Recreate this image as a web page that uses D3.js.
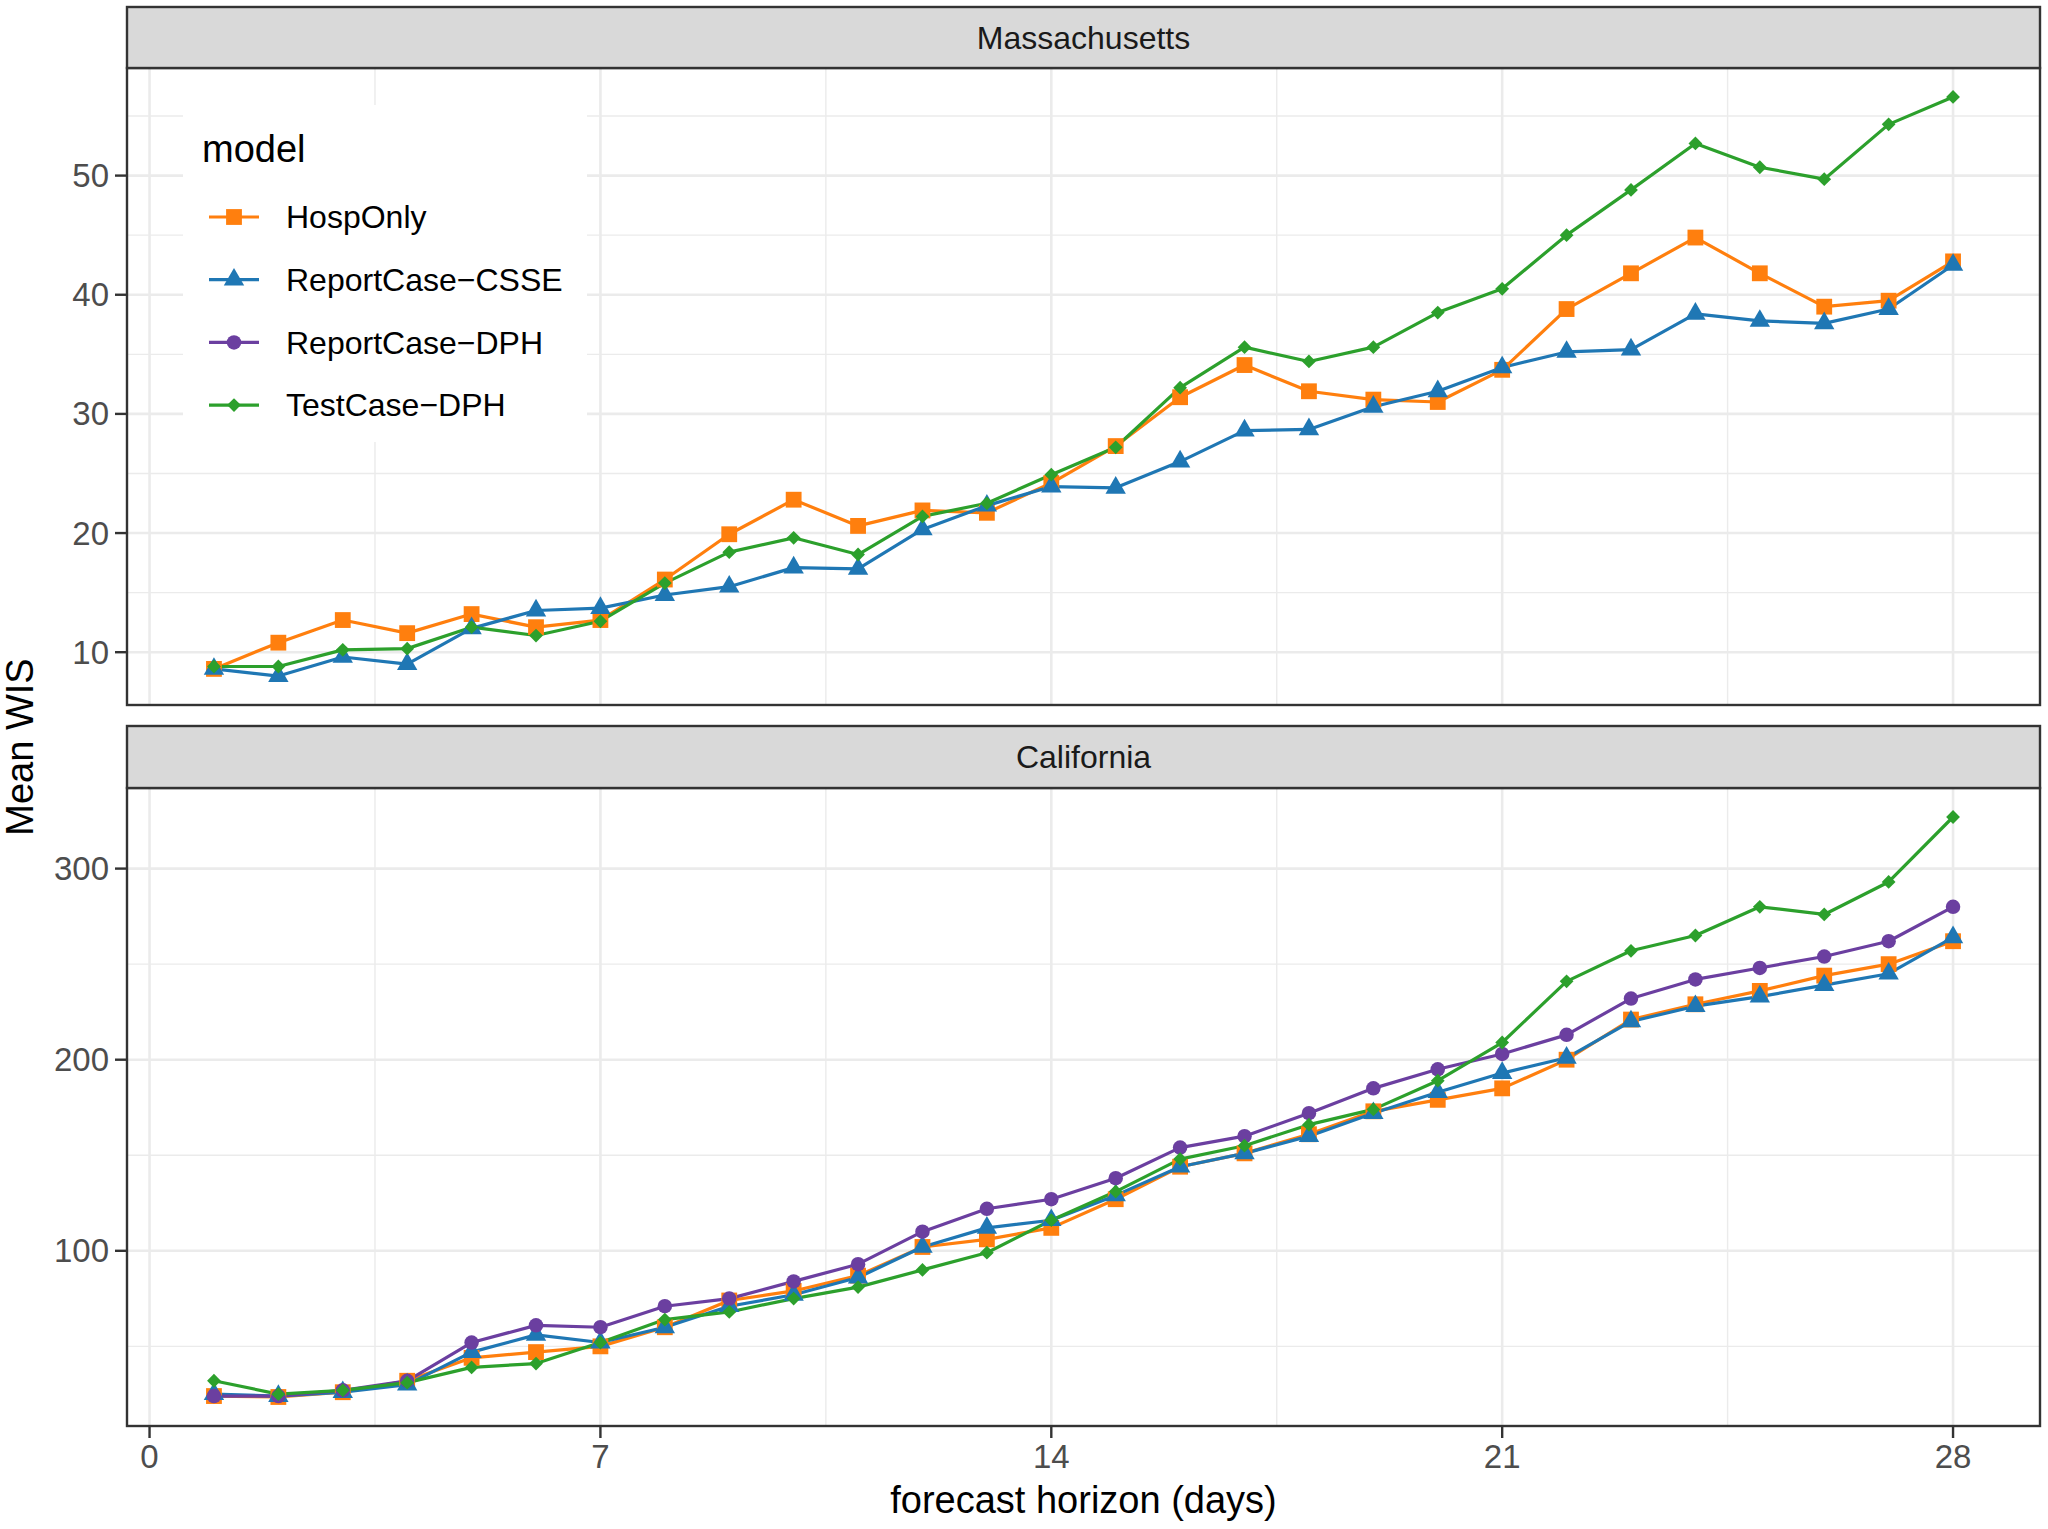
<!DOCTYPE html>
<html>
<head>
<meta charset="utf-8">
<script src="https://cdn.jsdelivr.net/npm/d3@7"></script>
<style>
  body { margin: 0; background: #fff; }
  text { font-family: "Liberation Sans", Arial, Helvetica, sans-serif; }
</style>
</head>
<body>
<div id="chart"></div>
<script>
// forecast horizon (days)
const days = [1,2,3,4,5,6,7,8,9,10,11,12,13,14,15,16,17,18,19,20,21,22,23,24,25,26,27,28];

const models = ["HospOnly", "ReportCase-CSSE", "ReportCase-DPH", "TestCase-DPH"];
const modelLabels = ["HospOnly", "ReportCase\u2212CSSE", "ReportCase\u2212DPH", "TestCase\u2212DPH"];
const modelColors = ["#FF7F0E", "#1F77B4", "#6B3FA0", "#2CA02C"];

// Massachusetts mean WIS (no ReportCase-DPH here)
const maHospOnly = [8.6,10.8,12.7,11.6,13.2,12.1,12.7,16.1,19.9,22.8,20.6,21.9,21.7,24.2,27.3,31.4,34.1,31.9,31.2,31.0,33.7,38.8,41.8,44.8,41.8,39.0,39.5,42.8];
const maReportCSSE = [8.6,8.0,9.6,9.0,12.0,13.5,13.7,14.8,15.5,17.1,17.0,20.3,22.3,23.9,23.8,26.0,28.6,28.7,30.6,31.9,33.9,35.2,35.4,38.4,37.8,37.6,38.8,42.5];
const maTestDPH = [8.8,8.8,10.2,10.3,12.1,11.4,12.6,15.8,18.4,19.6,18.2,21.4,22.5,24.9,27.2,32.2,35.6,34.4,35.6,38.5,40.5,45.0,48.8,52.7,50.7,49.7,54.3,56.6];

// California mean WIS
const caHospOnly = [24,23.5,26,32,44,47,50,60,74,79,87,102,106,112,127,144,151,161,173,179,185,200,221,229,236,244,250,262];
const caReportCSSE = [25,24,26,30,47,56,52,60,71,77,86,102,112,116,129,144,151,160,172,183,193,201,220,228,233,239,245,264];
const caReportDPH = [24,24,27,32,52,61,60,71,75,84,93,110,122,127,138,154,160,172,185,195,203,213,232,242,248,254,262,280];
const caTestDPH = [32,25,27,31,39,41,52,64,68,75,81,90,99,116,131,148,155,166,174,189,209,241,257,265,280,276,293,327];

const xTicks = [0, 7, 14, 21, 28];
const xMinor = [3.5, 10.5, 17.5, 24.5];
const maTicks = [10, 20, 30, 40, 50];
const maMinor = [15, 25, 35, 45, 55];
const caTicks = [100, 200, 300];
const caMinor = [50, 150, 250];

const panels = [
  {name: "Massachusetts", series: [maHospOnly, maReportCSSE, null, maTestDPH], ticks: maTicks, minor: maMinor, stripTop: 7, top: 68, bottom: 705},
  {name: "California", series: [caHospOnly, caReportCSSE, caReportDPH, caTestDPH], ticks: caTicks, minor: caMinor, stripTop: 726, top: 788, bottom: 1426}
];

const width = 2048, height = 1529;
const panelLeft = 127, panelRight = 2040;
const gridColor = "#EBEBEB", borderColor = "#333333";

const svg = d3.select("#chart")
  .append("svg")
    .attr("width", width)
    .attr("height", height);

// shared x scale, ggplot style 5% expansion
const x = d3.scaleLinear()
  .domain([1 - 0.05 * 27, 28 + 0.05 * 27])
  .range([panelLeft, panelRight]);

// marker shapes: square, triangle, circle, diamond
function markerPath(i) {
  if (i == 0) return d3.symbol().type(d3.symbolSquare).size(250)();
  if (i == 1) return d3.symbol().type(d3.symbolTriangle).size(180)();
  if (i == 2) return d3.symbol().type(d3.symbolCircle).size(165)();
  return d3.symbol().type(d3.symbolSquare).size(95)();
}
function markerRotate(i) {
  return i == 3 ? " rotate(45)" : "";
}

panels.forEach(function(p) {
  const all = p.series.filter(s => s).flat();
  const ext = d3.extent(all);
  const pad = (ext[1] - ext[0]) * 0.05;
  const y = d3.scaleLinear()
    .domain([ext[0] - pad, ext[1] + pad])
    .range([p.bottom, p.top]);

  const g = svg.append("g");

  // minor grid
  g.selectAll(".xminor").data(xMinor).join("line")
    .attr("x1", d => x(d)).attr("x2", d => x(d))
    .attr("y1", p.top).attr("y2", p.bottom)
    .attr("stroke", gridColor).attr("stroke-width", 1.4);
  g.selectAll(".yminor").data(p.minor.filter(v => y(v) > p.top && y(v) < p.bottom)).join("line")
    .attr("class", "yminor")
    .attr("x1", panelLeft).attr("x2", panelRight)
    .attr("y1", d => y(d)).attr("y2", d => y(d))
    .attr("stroke", gridColor).attr("stroke-width", 1.4);

  // major grid
  g.selectAll(".xmajor").data(xTicks).join("line")
    .attr("class", "xmajor")
    .attr("x1", d => x(d)).attr("x2", d => x(d))
    .attr("y1", p.top).attr("y2", p.bottom)
    .attr("stroke", gridColor).attr("stroke-width", 2.6);
  g.selectAll(".ymajor").data(p.ticks).join("line")
    .attr("class", "ymajor")
    .attr("x1", panelLeft).attr("x2", panelRight)
    .attr("y1", d => y(d)).attr("y2", d => y(d))
    .attr("stroke", gridColor).attr("stroke-width", 2.6);

  // lines first, then points (like geom_line + geom_point)
  const line = d3.line()
    .x((d, i) => x(days[i]))
    .y(d => y(d));

  p.series.forEach(function(s, i) {
    if (!s) return;
    g.append("path")
      .datum(s)
      .attr("fill", "none")
      .attr("stroke", modelColors[i])
      .attr("stroke-width", 3.2)
      .attr("stroke-linejoin", "round")
      .attr("d", line);
  });
  p.series.forEach(function(s, i) {
    if (!s) return;
    g.selectAll(".pt" + i).data(s).join("path")
      .attr("class", "pt" + i)
      .attr("d", markerPath(i))
      .attr("fill", modelColors[i])
      .attr("transform", (d, j) => `translate(${x(days[j])},${y(d)})` + markerRotate(i));
  });

  // panel border
  g.append("rect")
    .attr("x", panelLeft).attr("y", p.top)
    .attr("width", panelRight - panelLeft).attr("height", p.bottom - p.top)
    .attr("fill", "none").attr("stroke", borderColor).attr("stroke-width", 2.4);

  // strip
  g.append("rect")
    .attr("x", panelLeft).attr("y", p.stripTop)
    .attr("width", panelRight - panelLeft).attr("height", p.top - p.stripTop)
    .attr("fill", "#D9D9D9").attr("stroke", borderColor).attr("stroke-width", 2.4);
  g.append("text")
    .attr("x", (panelLeft + panelRight) / 2)
    .attr("y", (p.stripTop + p.top) / 2)
    .attr("dy", "0.35em")
    .attr("text-anchor", "middle")
    .attr("font-size", "32px")
    .attr("fill", "#1A1A1A")
    .text(p.name);

  // y axis ticks + labels
  g.selectAll(".ytick").data(p.ticks).join("line")
    .attr("class", "ytick")
    .attr("x1", panelLeft - 12).attr("x2", panelLeft)
    .attr("y1", d => y(d)).attr("y2", d => y(d))
    .attr("stroke", borderColor).attr("stroke-width", 2.4);
  g.selectAll(".ylab").data(p.ticks).join("text")
    .attr("class", "ylab")
    .attr("x", panelLeft - 18)
    .attr("y", d => y(d))
    .attr("dy", "0.35em")
    .attr("text-anchor", "end")
    .attr("font-size", "33px")
    .attr("fill", "#4D4D4D")
    .text(d => d);
});

// x axis on bottom panel only
const lastBottom = panels[1].bottom;
svg.selectAll(".xtick").data(xTicks).join("line")
  .attr("class", "xtick")
  .attr("x1", d => x(d)).attr("x2", d => x(d))
  .attr("y1", lastBottom).attr("y2", lastBottom + 12)
  .attr("stroke", borderColor).attr("stroke-width", 2.4);
svg.selectAll(".xlab").data(xTicks).join("text")
  .attr("class", "xlab")
  .attr("x", d => x(d))
  .attr("y", lastBottom + 30)
  .attr("dy", "0.35em")
  .attr("text-anchor", "middle")
  .attr("font-size", "33px")
  .attr("fill", "#4D4D4D")
  .text(d => d);

// axis titles
svg.append("text")
  .attr("x", (panelLeft + panelRight) / 2)
  .attr("y", 1513)
  .attr("text-anchor", "middle")
  .attr("font-size", "38px")
  .attr("fill", "#000")
  .text("forecast horizon (days)");
svg.append("text")
  .attr("transform", `translate(20,${(panels[0].top + panels[1].bottom) / 2}) rotate(-90)`)
  .attr("dy", "0.35em")
  .attr("text-anchor", "middle")
  .attr("font-size", "38px")
  .attr("fill", "#000")
  .text("Mean WIS");

// legend inside the top panel
const legend = svg.append("g");
legend.append("rect")
  .attr("x", 183).attr("y", 105)
  .attr("width", 404).attr("height", 337)
  .attr("fill", "#fff");
legend.append("text")
  .attr("x", 202).attr("y", 162)
  .attr("font-size", "38px")
  .attr("fill", "#000")
  .text("model");

const keys = legend.selectAll(".key").data(models).join("g")
  .attr("class", "key")
  .attr("transform", (d, i) => `translate(0,${217 + i * 62.7})`);
keys.append("line")
  .attr("x1", 209).attr("x2", 259)
  .attr("y1", 0).attr("y2", 0)
  .attr("stroke", (d, i) => modelColors[i])
  .attr("stroke-width", 3.2);
keys.append("path")
  .attr("d", (d, i) => markerPath(i))
  .attr("fill", (d, i) => modelColors[i])
  .attr("transform", (d, i) => "translate(234,0)" + markerRotate(i));
keys.append("text")
  .attr("x", 286)
  .attr("dy", "0.35em")
  .attr("font-size", "32px")
  .attr("fill", "#000")
  .text((d, i) => modelLabels[i]);
</script>
</body>
</html>
